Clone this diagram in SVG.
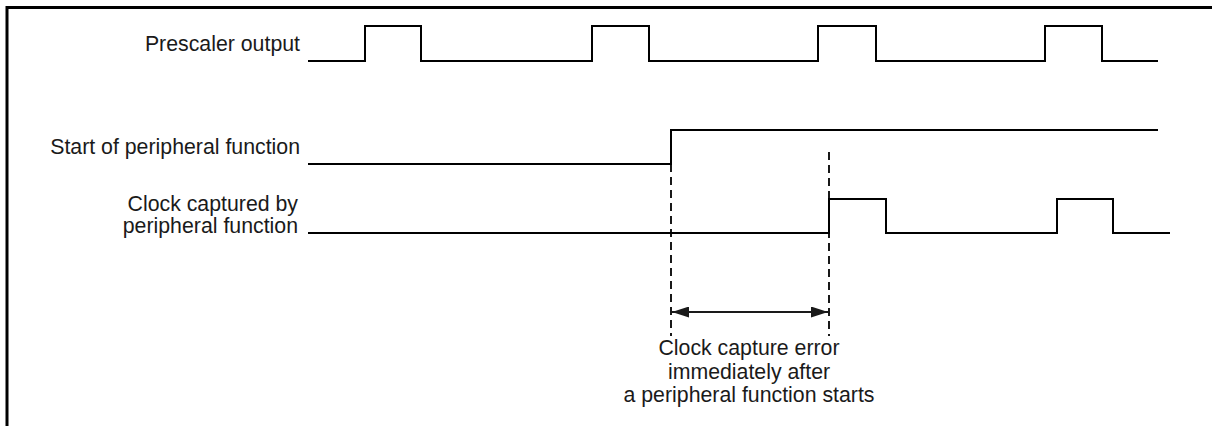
<svg xmlns="http://www.w3.org/2000/svg" width="1212" height="426" viewBox="0 0 1212 426">
<style>
.lbl{font-family:"Liberation Sans",Arial,Helvetica,sans-serif;font-size:21.3px;fill:#1a1a1a}
.wave{fill:none;stroke:#000;stroke-width:2;stroke-linejoin:miter}
.dash{fill:none;stroke:#000;stroke-width:1.8;stroke-dasharray:8 5}
.frame{fill:none;stroke:#000;stroke-width:3}
</style>
<defs>
<marker id="ah" viewBox="0 0 17 11" refX="17" refY="5.5" markerWidth="17" markerHeight="11" markerUnits="userSpaceOnUse" orient="auto-start-reverse">
<path d="M0,0 L17,5.5 L0,11 Z" fill="#1a1a1a"/>
</marker>
</defs>
<rect width="1212" height="426" fill="#fff"/>
<g id="frame">
<path class="frame" d="M7,426 V7.5 H1212"/>
</g>
<g id="prescaler">
<text class="lbl" x="300" y="51" text-anchor="end">Prescaler output</text>
<path class="wave" d="M308,61 H365 V26 H421 V61 H592 V26 H649 V61 H818 V26 H876 V61 H1045 V26 H1102 V61 H1158"/>
</g>
<g id="start">
<text class="lbl" x="300" y="154" text-anchor="end">Start of peripheral function</text>
<path class="wave" d="M308,164 H671 V130 H1158"/>
</g>
<g id="captured">
<text class="lbl" x="298" y="210.5" text-anchor="end">Clock captured by</text>
<text class="lbl" x="298" y="233" text-anchor="end">peripheral function</text>
<path class="wave" d="M308,233 H829 V199 H886 V233 H1057 V199 H1113 V233 H1170"/>
</g>
<g id="connectors">
<line class="dash" x1="671" y1="164" x2="671" y2="336"/>
<line class="dash" x1="829" y1="152" x2="829" y2="336"/>
<line x1="672" y1="312" x2="828" y2="312" stroke="#1a1a1a" stroke-width="2" marker-start="url(#ah)" marker-end="url(#ah)"/>
</g>
<g id="error-label">
<text class="lbl" x="749" y="355" text-anchor="middle">Clock capture error</text>
<text class="lbl" x="749" y="378.5" text-anchor="middle">immediately after</text>
<text class="lbl" x="749" y="402" text-anchor="middle">a peripheral function starts</text>
</g>
</svg>
